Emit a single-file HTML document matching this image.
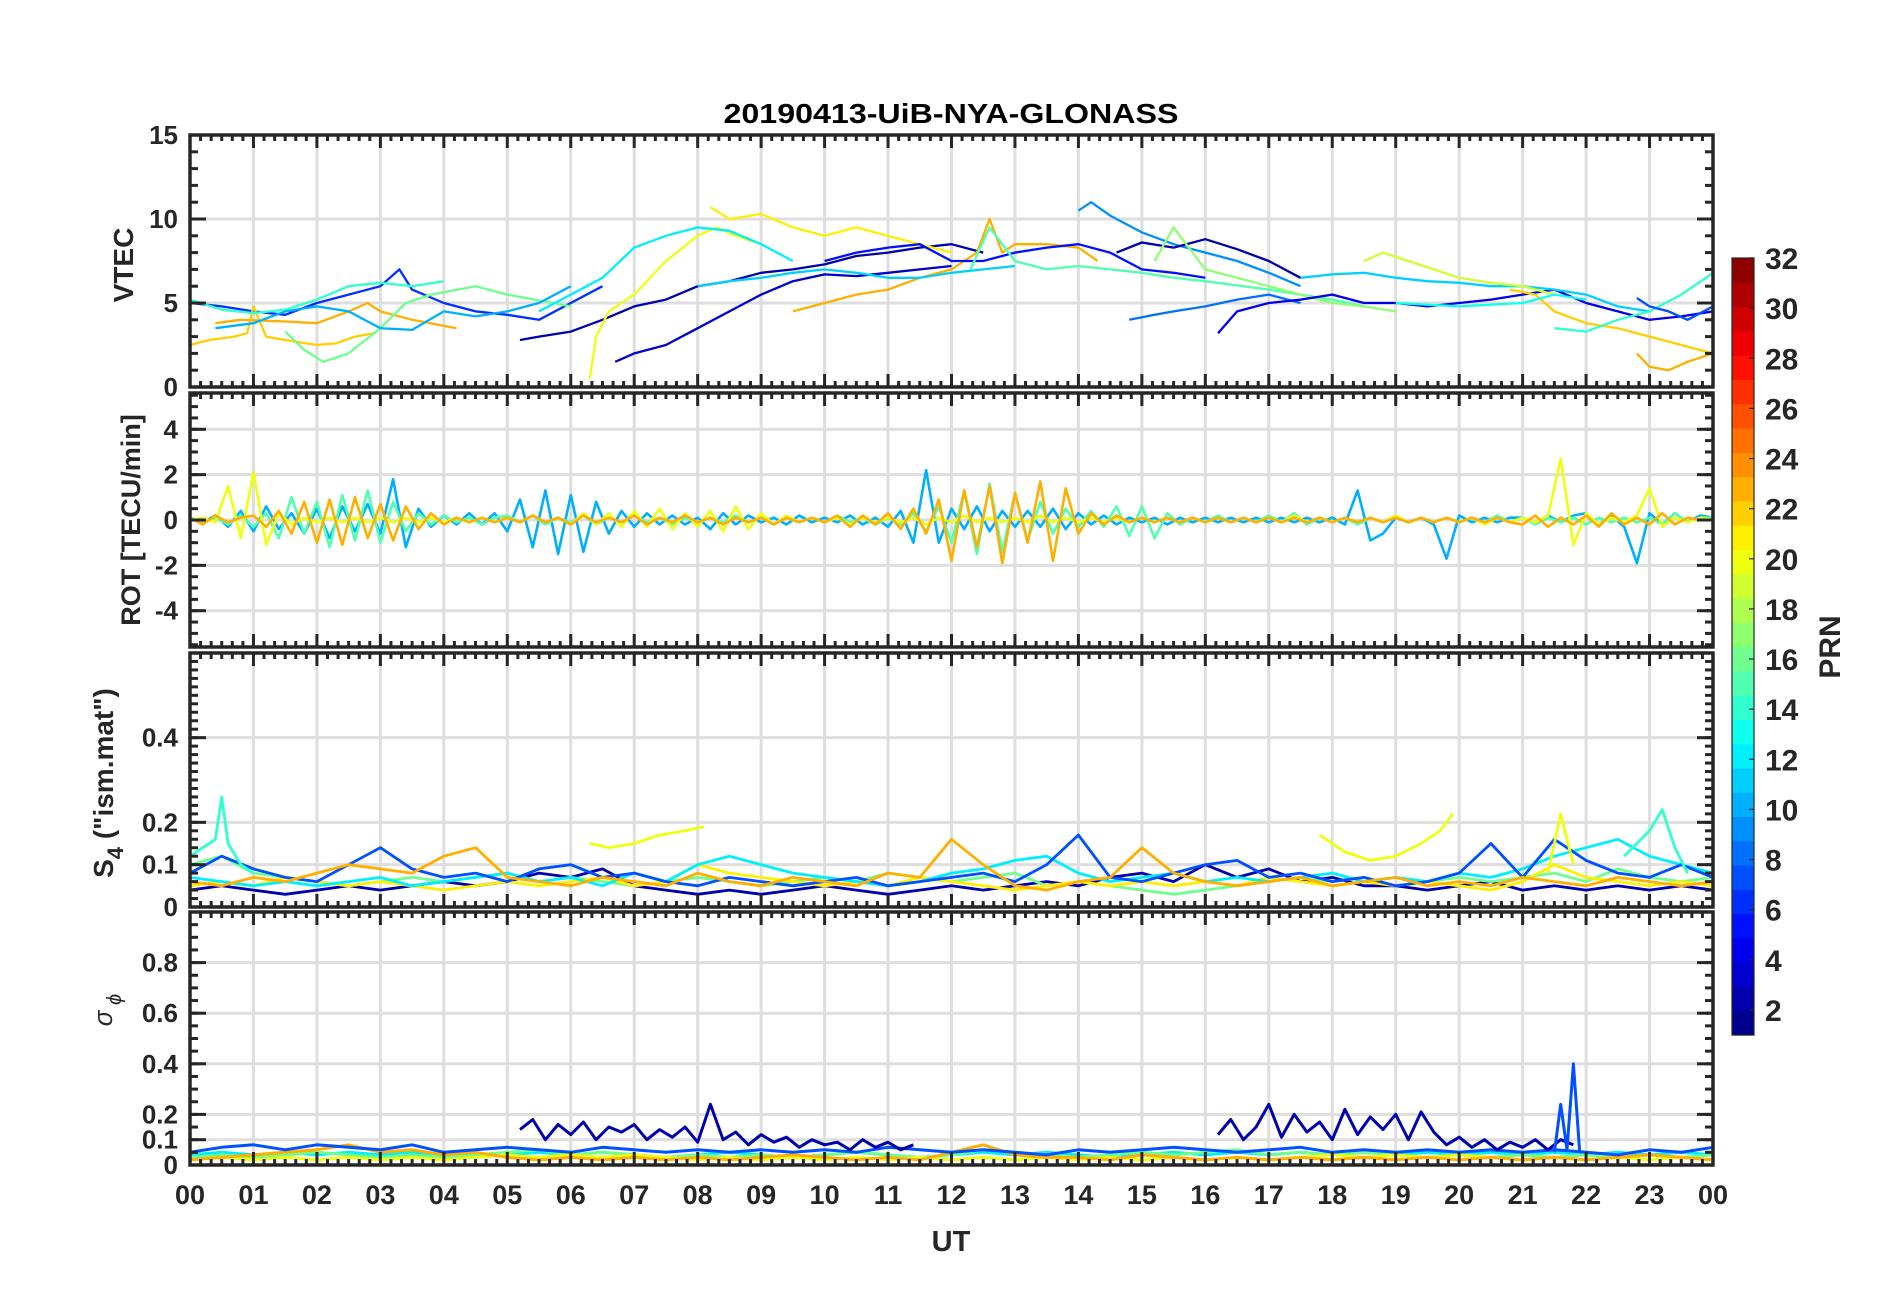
<!DOCTYPE html>
<html><head><meta charset="utf-8"><style>
html,body{margin:0;padding:0;background:#fff;}
svg{display:block;font-family:"Liberation Sans",Arial,sans-serif;}
</style></head><body>
<svg id="fig" width="1902" height="1292" viewBox="0 0 1902 1292" xmlns="http://www.w3.org/2000/svg">
<rect x="0" y="0" width="1902" height="1292" fill="#fff"/>
<text x="951" y="123" text-anchor="middle" font-size="28" font-weight="bold" fill="#000" textLength="455" lengthAdjust="spacingAndGlyphs">20190413-UiB-NYA-GLONASS</text>
<text x="951" y="1251" text-anchor="middle" font-size="29" font-weight="bold" fill="#262626">UT</text>
<text transform="translate(133,265) rotate(-90)" text-anchor="middle" font-size="28" font-weight="bold" fill="#262626">VTEC</text>
<text transform="translate(140,520) rotate(-90)" text-anchor="middle" font-size="27" font-weight="bold" fill="#262626">ROT [TECU/min]</text>
<text transform="translate(113,783) rotate(-90)" text-anchor="middle" font-size="28" font-weight="bold" fill="#262626">S<tspan font-size="22" dy="10">4</tspan><tspan dy="-10"> ("ism.mat")</tspan></text>
<text transform="translate(112,1010) rotate(-90)" text-anchor="middle" font-size="26" font-style="italic" fill="#262626">σ<tspan font-size="20" dy="9"> ϕ</tspan></text>
<g id="plots"></g>
<g id="cbar"></g>
</svg>
<script>
// ---------- data ----------
const hourLabels = ["00","01","02","03","04","05","06","07","08","09","10","11","12","13","14","15","16","17","18","19","20","21","22","23","00"];
const vtecTicks = [0,5,10,15];
const rotTicks = [-4,-2,0,2,4];
const s4Ticks = [0,0.1,0.2,0.4];
const sigTicks = [0,0.1,0.2,0.4,0.6,0.8];
const cbarTicks = [2,4,6,8,10,12,14,16,18,20,22,24,26,28,30,32];

const vtecPRN = [6,22,23,16,14,10,2,3,20,12,21,23,11,5,15,9,2,17,8,4,11,19,22,23,14,13,7];
const vtecTimes = [
[0,0.5,1,1.5,2,2.5,3,3.3,3.5,4,4.5,5,5.5,6,6.5],
[0,0.3,0.7,0.9,1,1.2,1.5,2,2.3,2.6,2.9],
[0.4,0.8,1.5,2,2.5,2.8,3,3.5,4.2],
[1.5,1.8,2.1,2.5,3,3.4,3.8,4.5,5,6],
[0,0.5,1,1.5,2,2.5,3,3.5,4],
[0.4,1,1.5,2,2.5,3,3.5,4,4.5,5,5.5,6],
[5.2,5.5,6,6.5,7,7.5,8,8.5,9,9.5,10,10.5,11,11.5,12,12.5],
[6.7,7,7.5,8,8.5,9,9.5,10,10.5,11,11.5,12],
[6.3,6.4,6.6,7,7.5,8,8.3,8.6,9],
[5.5,6,6.5,7,7.5,8,8.5,9,9.5],
[8.2,8.5,9,9.5,10,10.5,11,11.5,12],
[9.5,10,10.5,11,11.5,12,12.4,12.6,12.8,13,13.5,14,14.3],
[8,8.5,9,9.5,10,10.5,11,11.5,12,12.5,13],
[10,10.5,11,11.5,12,12.5,13,13.5,14,14.5,15,15.5,16],
[12.3,12.6,13,13.5,14,14.5,15,15.5,16,17,18,18.5],
[14,14.2,14.5,15,15.5,16,16.5,17,17.5],
[14.6,15,15.5,16,16.5,17,17.5],
[15.2,15.5,16,16.5,17,17.5,18,18.5,19],
[14.8,15.2,15.5,16,16.5,17,17.5],
[16.2,16.5,17,17.5,18,18.5,19,19.5,20,20.5,21,21.5,22,22.5,23,23.5,24],
[17.5,18,18.5,19,19.5,20,20.5,21,21.5,22,22.5,23],
[18.5,18.8,19.2,19.6,20,20.5,21,21.5],
[20.8,21.2,21.5,22,22.5,23,23.5,24],
[22.8,23,23.3,23.6,24],
[21.5,22,22.5,23,23.5,24],
[19,20,21,21.5,22],
[22.8,23,23.3,23.6,24]
];
const vtecVals = [
[5,4.8,4.5,4.3,5,5.5,6,7,5.8,5,4.5,4.3,4,5,6],
[2.5,2.8,3,3.2,4.8,3,2.8,2.5,2.6,3,3.2],
[3.8,4,3.9,3.8,4.5,5,4.5,4,3.5],
[3.3,2.2,1.5,2,3.5,5,5.5,6,5.5,4.8],
[5.2,4.6,4.4,4.6,5.2,6,6.2,6,6.3],
[3.5,3.8,4.5,4.8,4.5,3.5,3.4,4.5,4.2,4.5,5,6],
[2.8,3,3.3,4,4.8,5.2,6,6.3,6.8,7,7.3,7.8,8,8.3,8.5,8],
[1.5,2,2.5,3.5,4.5,5.5,6.3,6.7,6.6,6.8,7,7.2],
[0.5,3,4.5,5.5,7.5,9,9.5,9,8.5],
[4.5,5.5,6.5,8.3,9,9.5,9.3,8.5,7.5],
[10.7,10,10.3,9.5,9,9.5,9,8.5,8],
[4.5,5,5.5,5.8,6.5,7,8,10,8,8.5,8.5,8.3,7.5],
[6,6.3,6.5,6.8,7,6.8,6.5,6.5,6.8,7,7.2],
[7.5,8,8.3,8.5,7.5,7.5,8,8.3,8.5,8,7,6.8,6.5],
[7,9.5,7.5,7,7.2,7,6.8,6.5,6.3,5.8,5.2,4.8],
[10.5,11,10.2,9.2,8.5,8,7.5,6.8,6],
[8,8.6,8.3,8.8,8.2,7.5,6.5],
[7.5,9.5,7,6.5,6,5.5,5,4.8,4.5],
[4,4.3,4.5,4.8,5.2,5.5,5],
[3.2,4.5,5,5.2,5.5,5,5,4.8,5,5.2,5.5,5.8,5,4.5,4,4.2,4.5],
[6.5,6.7,6.8,6.5,6.3,6.2,6,6,5.8,5.5,4.8,4.5],
[7.5,8,7.5,7,6.5,6.2,6,5.5],
[5.8,5.5,4.5,3.8,3.5,3,2.5,2],
[2,1.2,1,1.5,2],
[3.5,3.3,4,4.5,5.5,6.8],
[5,4.8,5,5.5,5.2],
[5.3,4.8,4.5,4,4.8]
];

// ROT: samples every 0.2 h from 0 to 24
const rotPRN = [10,15,20,23];
const rotVals = [
[.1,-.1,.2,-.3,.4, -.5,.6,-.4,.3,-.6, .5,-.8,.6,-.5,.7, -.6,1.8,-1.2,.5,-.3, .2,-.2,.3,-.2,.3, -.5,.9,-1.2,1.3,-1.5, 1.1,-1.4,.8,-.6,.4, -.3,.3,-.2,.2,-.2, .1,-.4,.3,-.2,.2, -.1,.1,-.2,.2,-.1, .1,-.1,.2,-.2,.1, -.3,.4,-1,2.2,-1, .5,-.4,.6,-.5,.4, -.3,.4,-.3,.5,-.4, .3,-.2,.2,-.2,.1, -.1,.1,-.2,.1,-.1, .1,-.1,.1,-.1,.1, -.1,.1,-.1,.1,-.1, .1,-.2,1.3,-.9,-.6, .1,-.1,.1,-.2,-1.7, .2,-.1,.1,-.1,.1, .1,-.1,.2,-.1,.2, .3,-.2,.2,-.3,-1.9, .3,-.2,.3,-.1,.2, .1],
[.1,-.1,.1,-.2,.2, -.3,.3,-.8,1,-.6, .8,-1.2,1.1,-.9,1.3, -1,.8,-.5,.3,-.2, .2,-.1,.1,-.2,.1, .2,-.1,.2,-.2,.1, -.1,.2,-.2,.1,-.1, .2,-.1,.1,-.2,.1, -.1,.1,-.1,.2,-.1, .1,-.2,.1,-.1,.1, -.1,.2,-.1,.1,-.2, .1,-.2,.3,-.5,.6, -1,1.3,-1.5,1.6,-1.4, 1.2,-.9,.8,-.6,.5, -.3,.4,-.3,.6,-.7, .6,-.8,.3,-.2,.1, -.1,.2,-.1,.1,-.1, .2,-.1,.3,-.2,.1, -.1,.1,-.2,.1,-.1, .1,-.1,.1,-.1,.1, -.1,.1,-.1,.2,-.1, .1,-.2,.1,-.1,.1, -.2,.1,-.1,.1,-.1, .1,-.2,.3,-.1,.1, .1],
[0,.1,-.1,1.5,-.8, 2.1,-1.1,.3,-.2,.1, -.1,.1,-.1,.1,-.1, .1,-.1,.1,-.1,.1, -.1,.1,-.1,.1,-.1, .1,-.1,.2,-.1,.1, -.2,.3,-.2,.3,-.3, .4,-.3,.5,-.4,.3, -.3,.4,-.5,.6,-.4, .3,-.2,.2,-.1,.1, -.1,.1,-.2,.1,-.1, .1,-.1,.1,-.2,.1, -.1,.2,-.1,.1,-.1, .1,-.1,.2,-.1,.1, -.1,.1,-.1,.1,-.1, .1,-.1,.1,-.1,.1, -.1,.1,-.1,.1,-.1, .1,-.1,.2,-.1,.1, -.1,.1,-.1,.1,-.1, .2,-.1,.1,-.1,.1, -.1,.1,-.2,.1,-.1, .1,-.1,.2,2.7,-1.1, .3,-.2,.1,-.1,.2, 1.4,-.3,.1,-.1,.1, 0],
[.1,-.2,.2,-.1,.1, .2,-.3,.4,-.6,.8, -1,.9,-1.1,1,-.8, .7,-.9,.6,-.4,.3, -.2,.1,-.1,.1,-.1, .1,-.1,.2,-.1,.1, -.2,.2,-.1,.1,-.1, .2,-.2,.1,-.1,.2, -.1,.1,-.2,.1,-.1, .1,-.2,.1,-.1,.1, -.1,.2,-.3,.2,-.2, .3,-.4,.5,-.6,.9, -1.8,1.3,-1.2,1.5,-1.9, 1.2,-1,1.7,-1.8,1.4, -.6,.3,-.2,.2,-.1, .1,-.1,.1,-.1,.1, -.1,.1,-.1,.1,-.1, .1,-.1,.1,-.1,.1, -.1,.1,-.1,.1,-.1, .1,-.1,.1,-.1,.1, -.1,.1,-.1,.1,-.1, -.2,.2,-.3,.1,-.2, .2,-.3,.3,-.2,.1, -.2,.3,-.2,.1,0, 0]
];

// S4: samples every 0.5 h from 0 to 24
const s4PRN = [2,16,21,12,7,23];
const s4Vals = [
[0.04,0.05,0.04,0.03,0.04,0.05,0.04,0.05,0.06,0.05,0.06,0.08,0.07,0.09,0.05,0.04,0.03,0.04,0.03,0.04,0.05,0.04,0.03,0.04,0.05,0.04,0.05,0.06,0.05,0.07,0.08,0.06,0.1,0.07,0.09,0.06,0.07,0.05,0.05,0.04,0.05,0.06,0.04,0.05,0.04,0.05,0.04,0.05,0.04],
[0.1,0.12,0.08,0.07,0.06,0.05,0.06,0.07,0.06,0.07,0.08,0.06,0.07,0.06,0.05,0.06,0.07,0.06,0.05,0.06,0.07,0.06,0.08,0.07,0.06,0.07,0.08,0.05,0.06,0.05,0.04,0.03,0.04,0.05,0.06,0.07,0.06,0.07,0.05,0.06,0.07,0.06,0.07,0.08,0.06,0.09,0.07,0.06,0.07],
[0.05,0.06,0.05,0.07,0.06,0.05,0.06,0.05,0.04,0.05,0.06,0.05,0.06,0.07,0.05,0.06,0.1,0.08,0.07,0.06,0.05,0.06,0.05,0.07,0.06,0.05,0.04,0.05,0.06,0.05,0.06,0.05,0.06,0.05,0.07,0.06,0.05,0.06,0.05,0.06,0.05,0.04,0.06,0.1,0.07,0.06,0.05,0.06,0.05],
[0.07,0.06,0.05,0.06,0.05,0.06,0.07,0.05,0.06,0.07,0.08,0.06,0.07,0.05,0.08,0.06,0.1,0.12,0.1,0.08,0.07,0.06,0.05,0.06,0.08,0.09,0.11,0.12,0.08,0.06,0.07,0.08,0.06,0.07,0.06,0.07,0.08,0.06,0.07,0.06,0.08,0.07,0.09,0.12,0.14,0.16,0.12,0.1,0.08],
[0.08,0.12,0.09,0.07,0.06,0.1,0.14,0.09,0.07,0.08,0.06,0.09,0.1,0.07,0.08,0.06,0.05,0.07,0.06,0.05,0.06,0.07,0.05,0.06,0.07,0.08,0.06,0.1,0.17,0.07,0.06,0.08,0.1,0.11,0.07,0.08,0.06,0.07,0.05,0.06,0.08,0.15,0.07,0.16,0.11,0.08,0.07,0.1,0.07],
[0.06,0.05,0.07,0.06,0.08,0.1,0.09,0.08,0.12,0.14,0.07,0.06,0.05,0.07,0.06,0.05,0.08,0.06,0.05,0.07,0.06,0.05,0.08,0.07,0.16,0.1,0.05,0.04,0.06,0.07,0.14,0.08,0.06,0.05,0.06,0.07,0.05,0.06,0.07,0.05,0.06,0.05,0.07,0.06,0.05,0.07,0.06,0.05,0.06]
];
const s4SegPRN = [20,20,20,14,14];
const s4SegTimes = [[6.3,6.6,7,7.4,7.8,8.1],[17.8,18.2,18.6,19,19.4,19.7,19.9],[21.4,21.6,21.8],[0,0.2,0.4,0.5,0.6,0.8,1],[22.6,23,23.2,23.4,23.6]];
const s4SegVals = [[0.15,0.14,0.15,0.17,0.18,0.19],[0.17,0.13,0.11,0.12,0.15,0.18,0.22],[0.08,0.22,0.1],[0.12,0.14,0.16,0.26,0.15,0.1,0.08],[0.12,0.18,0.23,0.14,0.08]];

// sigma-phi: samples every 0.5 h
const sigPRN = [12,16,20,23,7];
const sigVals = [
[0.04,0.05,0.04,0.05,0.04,0.05,0.04,0.05,0.04,0.03,0.04,0.05,0.04,0.05,0.04,0.03,0.04,0.05,0.04,0.03,0.04,0.05,0.04,0.03,0.04,0.05,0.04,0.05,0.04,0.03,0.04,0.05,0.04,0.05,0.04,0.05,0.04,0.05,0.04,0.05,0.04,0.05,0.04,0.05,0.04,0.05,0.04,0.05,0.04],
[0.03,0.04,0.03,0.04,0.05,0.04,0.03,0.04,0.03,0.04,0.05,0.06,0.04,0.05,0.04,0.03,0.04,0.03,0.04,0.03,0.04,0.05,0.04,0.03,0.04,0.06,0.05,0.04,0.03,0.04,0.05,0.04,0.05,0.06,0.04,0.05,0.04,0.05,0.04,0.03,0.04,0.03,0.04,0.03,0.04,0.03,0.04,0.03,0.04],
[0.02,0.03,0.02,0.03,0.02,0.03,0.02,0.03,0.02,0.03,0.04,0.03,0.04,0.03,0.04,0.03,0.02,0.03,0.02,0.03,0.02,0.03,0.02,0.03,0.02,0.03,0.02,0.03,0.02,0.03,0.02,0.03,0.02,0.03,0.02,0.03,0.04,0.03,0.04,0.03,0.04,0.03,0.02,0.03,0.02,0.03,0.02,0.03,0.02],
[0.02,0.03,0.04,0.05,0.06,0.08,0.05,0.06,0.04,0.05,0.03,0.02,0.03,0.02,0.03,0.02,0.03,0.02,0.03,0.04,0.03,0.02,0.03,0.02,0.05,0.08,0.04,0.03,0.03,0.02,0.04,0.03,0.02,0.03,0.02,0.03,0.02,0.03,0.02,0.03,0.02,0.03,0.02,0.03,0.02,0.03,0.04,0.03,0.02],
[0.05,0.07,0.08,0.06,0.08,0.07,0.06,0.08,0.05,0.06,0.07,0.06,0.05,0.07,0.06,0.05,0.06,0.05,0.06,0.05,0.06,0.05,0.07,0.06,0.05,0.06,0.05,0.04,0.06,0.05,0.06,0.07,0.06,0.05,0.06,0.07,0.05,0.06,0.05,0.06,0.05,0.06,0.05,0.06,0.05,0.04,0.06,0.05,0.07]
];
const sigSegPRN = [2,2,7];
const sigSegTimes = [
[5.2,5.4,5.6,5.8,6,6.2,6.4,6.6,6.8,7,7.2,7.4,7.6,7.8,8,8.2,8.4,8.6,8.8,9,9.2,9.4,9.6,9.8,10,10.2,10.4,10.6,10.8,11,11.2,11.4],
[16.2,16.4,16.6,16.8,17,17.2,17.4,17.6,17.8,18,18.2,18.4,18.6,18.8,19,19.2,19.4,19.6,19.8,20,20.2,20.4,20.6,20.8,21,21.2,21.4,21.6,21.8],
[21.5,21.6,21.7,21.8,21.9]
];
const sigSegVals = [
[0.14,0.18,0.1,0.16,0.12,0.17,0.1,0.15,0.13,0.16,0.1,0.14,0.11,0.15,0.09,0.24,0.1,0.13,0.08,0.12,0.09,0.11,0.07,0.1,0.08,0.09,0.06,0.1,0.07,0.09,0.06,0.08],
[0.12,0.18,0.1,0.15,0.24,0.11,0.2,0.13,0.17,0.1,0.22,0.12,0.19,0.14,0.2,0.1,0.21,0.13,0.08,0.11,0.07,0.1,0.06,0.09,0.07,0.1,0.06,0.1,0.08],
[0.05,0.24,0.06,0.4,0.05]
];

// ---------- rendering ----------
const NS = "http://www.w3.org/2000/svg";
const X0 = 190, X1 = 1713;
const xs = h => X0 + (X1 - X0) * h / 24;
const panels = [
  {name:"vtec", top:135, bot:387, min:0, max:15, ticks:vtecTicks, minor:1, fmt:v=>String(v), sw:2.3},
  {name:"rot", top:393, bot:647, min:-5.6, max:5.6, ticks:rotTicks, minor:0.5, fmt:v=>String(v), sw:2.6},
  {name:"s4", top:653, bot:907, min:0, max:0.6, ticks:s4Ticks, minor:0.02, fmt:v=>v===0?"0":v.toFixed(1), sw:2.8},
  {name:"sigma-phi", top:912, bot:1165, min:0, max:1.0, ticks:sigTicks, minor:0.05, fmt:v=>v===0?"0":v.toFixed(1), sw:3}
];
function ys(p, v){ return p.bot - (p.bot - p.top) * (v - p.min) / (p.max - p.min); }
function jet(t){
  const c = x => Math.max(0, Math.min(1, x));
  const r = c(1.5 - Math.abs(4*t - 3)), g = c(1.5 - Math.abs(4*t - 2)), b = c(1.5 - Math.abs(4*t - 1));
  return "rgb(" + Math.round(r*255) + "," + Math.round(g*255) + "," + Math.round(b*255) + ")";
}
function prnColor(p){ const i = Math.min(31, Math.max(0, p - 1)); return jet((i + 0.5) / 32); }
function mk(tag, attrs, parent){
  const e = document.createElementNS(NS, tag);
  for (const k in attrs) e.setAttribute(k, attrs[k]);
  parent.appendChild(e); return e;
}
const root = document.getElementById("plots");
const defs = mk("defs", {}, root);

function drawLine(g, p, times, vals, prn, name){
  let d = "";
  for (let i = 0; i < times.length; i++) {
    d += (i ? "L" : "M") + xs(times[i]).toFixed(1) + "," + ys(p, vals[i]).toFixed(1);
  }
  const el = mk("path", {d:d, fill:"none", stroke:prnColor(prn), "stroke-width":p.sw, "stroke-linejoin":"round"}, g);
  
  
}

panels.forEach((p, pi) => {
  const g = mk("g", {}, root);
  
  
  const cp = mk("clipPath", {id:"clip" + pi}, defs);
  mk("rect", {x:X0, y:p.top, width:X1-X0, height:p.bot-p.top}, cp);
  const grid = mk("g", {stroke:"#dedede", "stroke-width":3}, g);
  
  
  for (let h = 1; h < 24; h++) mk("line", {x1:xs(h), x2:xs(h), y1:p.top, y2:p.bot}, grid);
  p.ticks.forEach(v => { const y = ys(p, v); if (y > p.top + 2 && y < p.bot - 2) mk("line", {x1:X0, x2:X1, y1:y, y2:y}, grid); });
  const dg = mk("g", {"clip-path":"url(#clip" + pi + ")"}, g);
  
  
  if (pi === 0) {
    vtecTimes.forEach((t, i) => drawLine(dg, p, t, vtecVals[i], vtecPRN[i], "vtec-prn-" + vtecPRN[i]));
  } else if (pi === 1) {
    rotVals.forEach((vals, i) => drawLine(dg, p, vals.map((_, k) => k * 0.2), vals, rotPRN[i], "rot-prn-" + rotPRN[i]));
  } else if (pi === 2) {
    s4Vals.forEach((vals, i) => drawLine(dg, p, vals.map((_, k) => k * 0.5), vals, s4PRN[i], "s4-prn-" + s4PRN[i]));
    s4SegTimes.forEach((t, i) => drawLine(dg, p, t, s4SegVals[i], s4SegPRN[i], "s4-prn-" + s4SegPRN[i]));
  } else {
    sigVals.forEach((vals, i) => drawLine(dg, p, vals.map((_, k) => k * 0.5), vals, sigPRN[i], "sigma-prn-" + sigPRN[i]));
    sigSegTimes.forEach((t, i) => drawLine(dg, p, t, sigSegVals[i], sigSegPRN[i], "sigma-prn-" + sigSegPRN[i]));
  }
  const tk = mk("g", {stroke:"#262626", "stroke-width":3}, g);
  
  
  for (let m = 0; m <= 24*6; m++) {
    const x = xs(m / 6), major = (m % 6 === 0), L = major ? 13 : 6;
    mk("line", {x1:x, x2:x, y1:p.top, y2:p.top + L}, tk);
    mk("line", {x1:x, x2:x, y1:p.bot, y2:p.bot - L}, tk);
  }
  const nMinor = Math.round((p.max - p.min) / p.minor);
  for (let k = 0; k <= nMinor; k++) {
    const v = Math.ceil(p.min / p.minor) * p.minor + k * p.minor;
    if (v > p.max + 1e-9) break;
    const y = ys(p, v);
    mk("line", {x1:X0, x2:X0 + 8, y1:y, y2:y}, tk);
    mk("line", {x1:X1, x2:X1 - 8, y1:y, y2:y}, tk);
  }
  p.ticks.forEach(v => {
    const y = ys(p, v);
    mk("line", {x1:X0, x2:X0 + 16, y1:y, y2:y}, tk);
    mk("line", {x1:X1, x2:X1 - 16, y1:y, y2:y}, tk);
    const t = mk("text", {x:178, y:y + 9, "text-anchor":"end", "font-size":26, "font-weight":"bold", fill:"#262626", stroke:"none"}, g);
    t.textContent = p.fmt(v);
    
    
  });
  const box = mk("rect", {x:X0, y:p.top, width:X1-X0, height:p.bot-p.top, fill:"none", stroke:"#262626", "stroke-width":3.5}, g);
  
  
});

hourLabels.forEach((lab, h) => {
  const t = mk("text", {x:xs(h), y:1204, "text-anchor":"middle", "font-size":27, "font-weight":"bold", fill:"#262626"}, root);
  t.textContent = lab;
  
  
});

const cb = document.getElementById("cbar");


const CBX = 1732, CBW = 22, CBT = 258, CBB = 1035;
const cy = v => CBB - (CBB - CBT) * (v - 1) / 31;
for (let i = 0; i < 32; i++) {
  const y0 = CBB - (CBB - CBT) * i / 32, y1 = CBB - (CBB - CBT) * (i + 1) / 32;
  const r = mk("rect", {x:CBX, y:y1, width:CBW, height:y0 - y1 + 0.6, fill:jet((i + 0.5) / 32)}, cb);
  
  
}
mk("rect", {x:CBX, y:CBT, width:CBW, height:CBB-CBT, fill:"none", stroke:"#262626", "stroke-width":1.2}, cb);
cbarTicks.forEach(v => {
  mk("line", {x1:CBX + CBW - 5, x2:CBX + CBW, y1:cy(v), y2:cy(v), stroke:"#262626", "stroke-width":1.2}, cb);
  const t = mk("text", {x:1765, y:cy(v) + 11, "font-size":30, "font-weight":"bold", fill:"#262626"}, cb);
  t.textContent = String(v);
  
  
});
const pl = mk("text", {transform:"translate(1840,647) rotate(-90)", "text-anchor":"middle", "font-size":30, "font-weight":"bold", fill:"#262626"}, cb);
pl.textContent = "PRN";


</script>
</body></html>
